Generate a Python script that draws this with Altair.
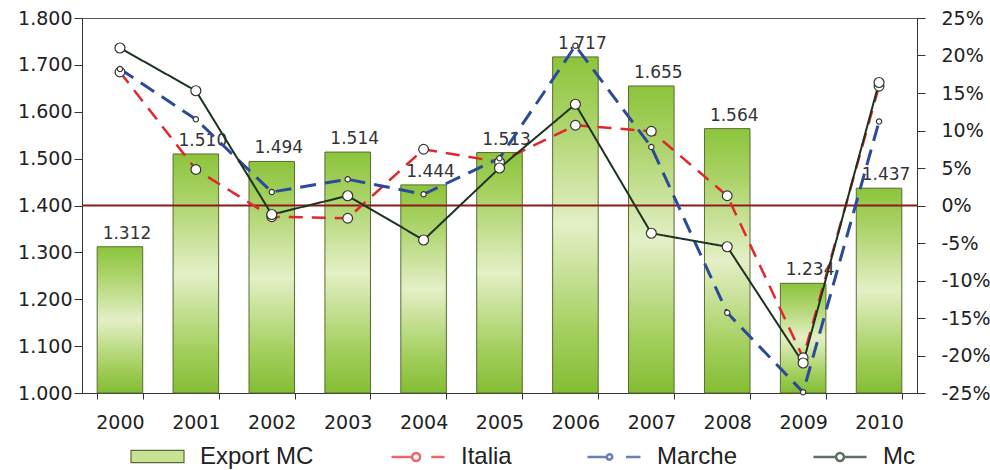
import altair as alt
import pandas as pd

# ---- data ----
years = ["2000", "2001", "2002", "2003", "2004", "2005", "2006", "2007", "2008", "2009", "2010"]
export_mc = [1.312, 1.510, 1.494, 1.514, 1.444, 1.513, 1.717, 1.655, 1.564, 1.234, 1.437]
italia = [17.8, 4.8, -1.5, -1.7, 7.5, 5.8, 10.7, 9.9, 1.3, -20.3, 15.9]
marche = [18.2, 11.5, 1.8, 3.5, 1.5, 6.3, 21.3, 7.8, -14.3, -24.9, 11.2]
mc = [21.0, 15.3, -1.2, 1.3, -4.6, 5.0, 13.5, -3.7, -5.5, -21.0, 16.4]
series_names = ["Italia", "Marche", "Mc"]
bar_name = ["Export MC"]
left_ticks = [1.0, 1.1, 1.2, 1.3, 1.4, 1.5, 1.6, 1.7, 1.8]
right_ticks = [-25, -20, -15, -10, -5, 0, 5, 10, 15, 20, 25]
zero_level = [0]

bars_df = pd.DataFrame({"year": years, "export": export_mc, "series": bar_name * len(years)})
rows = []
for name, vals in zip(series_names, [italia, marche, mc]):
    for yr, v in zip(years, vals):
        rows.append({"year": yr, "series": name, "pct": v})
lines_df = pd.DataFrame(rows)
zero_df = pd.DataFrame({"z": zero_level})

# ---- styles ----
colors = {"Italia": "#e3262d", "Marche": "#2c4a9a", "Mc": "#1c3320"}
dashes = {"Italia": [14, 9], "Marche": [16, 9], "Mc": [1, 0]}
widths = {"Italia": 2.5, "Marche": 3, "Mc": 2}
msize = {"Italia": 95, "Marche": 28, "Mc": 100}
legend_paths = [
    "M-1,0H-0.22M-0.22,0A0.15,0.15,0,1,1,0.08,0A0.15,0.15,0,1,1,-0.22,0M0.5,0H1",
    "M-1,0H-0.27M-0.27,0A0.1,0.1,0,1,1,-0.07,0A0.1,0.1,0,1,1,-0.27,0M0.45,0H1",
    "M-1,0H-0.15M-0.15,0A0.15,0.15,0,1,1,0.15,0A0.15,0.15,0,1,1,-0.15,0M0.15,0H1",
]

x_scale = alt.Scale(paddingInner=0.4, paddingOuter=0.2)
x_axis = alt.Axis(title=None, labelAngle=0, tickBand="extent", tickSize=6,
                  labelPadding=14, domainColor="#333", tickColor="#333")
X = alt.X("year:N", scale=x_scale, axis=x_axis, sort=years)

left_scale = alt.Scale(domain=[1.0, 1.8], nice=False, zero=False)
right_scale = alt.Scale(domain=[-25, 25], nice=False, zero=False)

gradient = alt.Gradient(
    gradient="linear", x1=0, x2=0, y1=0, y2=1,
    stops=[
        alt.GradientStop(offset=0, color="#8cc43c"),
        alt.GradientStop(offset=0.18, color="#a9d265"),
        alt.GradientStop(offset=0.5, color="#e4efc6"),
        alt.GradientStop(offset=0.82, color="#a3cf5d"),
        alt.GradientStop(offset=1, color="#84bd34"),
    ],
)

layers = []
layers.append(
    alt.Chart(bars_df).mark_bar(color=gradient, stroke="#5a6b32", strokeWidth=1).encode(
        x=X,
        y=alt.Y("export:Q", scale=left_scale,
                axis=alt.Axis(title=None, values=left_ticks, format=".3f", orient="left",
                              tickSize=8, labelPadding=2, domainColor="#333",
                              tickColor="#333")),
        y2=alt.datum(left_ticks[0]),
    )
)
layers.append(
    alt.Chart(bars_df).mark_text(
        dx=7, dy=-8, baseline="alphabetic", font="DejaVu Sans", fontSize=17, color="#333"
    ).encode(x=X, y=alt.Y("export:Q", scale=left_scale, axis=None),
             text=alt.Text("export:Q", format=".3f"))
)
layers.append(
    alt.Chart(zero_df).mark_rule(color="#8b1a1a", strokeWidth=2).encode(
        y=alt.Y("z:Q", scale=right_scale,
                axis=alt.Axis(title=None, values=right_ticks, orient="right",
                              labelExpr="datum.value + '%'", tickSize=8, labelPadding=16,
                              domainColor="#333", tickColor="#333"))
    )
)
for name in series_names:
    layers.append(
        alt.Chart(lines_df).transform_filter(alt.datum.series == name).mark_line(
            color=colors[name], strokeDash=dashes[name], strokeWidth=widths[name]
        ).encode(x=X, y=alt.Y("pct:Q", scale=right_scale, axis=None))
    )
for name in series_names:
    layers.append(
        alt.Chart(lines_df).transform_filter(alt.datum.series == name).mark_circle(
            fill="white", stroke="#333", strokeWidth=1.2, size=msize[name], opacity=1
        ).encode(x=X, y=alt.Y("pct:Q", scale=right_scale, axis=None))
    )

# legend-only layers (no rows drawn)
lines_legend = alt.Legend(
    title=None, orient="none", legendX=308, legendY=411, direction="horizontal",
    symbolSize=2809, symbolStrokeWidth=2.5, labelFont="Liberation Sans",
    labelFontSize=24, labelColor="#222", labelOffset=15, columnPadding=70, gridAlign="each",
)
layers.append(
    alt.Chart(lines_df).transform_filter("datum.pct > 1000").mark_point(
        filled=False, strokeWidth=2.5, size=2809
    ).encode(
        x=X,
        color=alt.Color("series:N", scale=alt.Scale(domain=series_names,
                                                    range=[colors[n] for n in series_names]),
                        legend=lines_legend),
        shape=alt.Shape("series:N", scale=alt.Scale(domain=series_names, range=legend_paths),
                        legend=lines_legend),
    )
)
layers.append(
    alt.Chart(bars_df).transform_filter("datum.export > 1000").mark_bar(
        stroke="#5a6b32", strokeWidth=1.2
    ).encode(
        x=X,
        fill=alt.Fill("series:N", scale=alt.Scale(domain=bar_name, range=["#c8e294"]),
                      legend=alt.Legend(
                          title=None, orient="none", legendX=48, legendY=411,
                          symbolType="M-1,-0.23H1V0.23H-1Z", symbolSize=2809,
                          symbolStrokeColor="#5a6b32", symbolStrokeWidth=1.2,
                          labelFont="Liberation Sans", labelFontSize=24, labelColor="#222",
                          labelOffset=15)),
    )
)

chart = alt.layer(*layers).resolve_scale(y="independent").properties(
    width=835, height=375,
    autosize=alt.AutoSizeParams(type="none"),
    padding={"left": 82, "top": 18, "right": 73, "bottom": 77},
    background="white",
).configure_view(stroke="#555", strokeWidth=1).configure_axis(
    grid=False, labelFont="DejaVu Sans", labelFontSize=19, labelColor="#222"
)

chart.save("out.html", embed_options={"renderer": "svg", "actions": False})
